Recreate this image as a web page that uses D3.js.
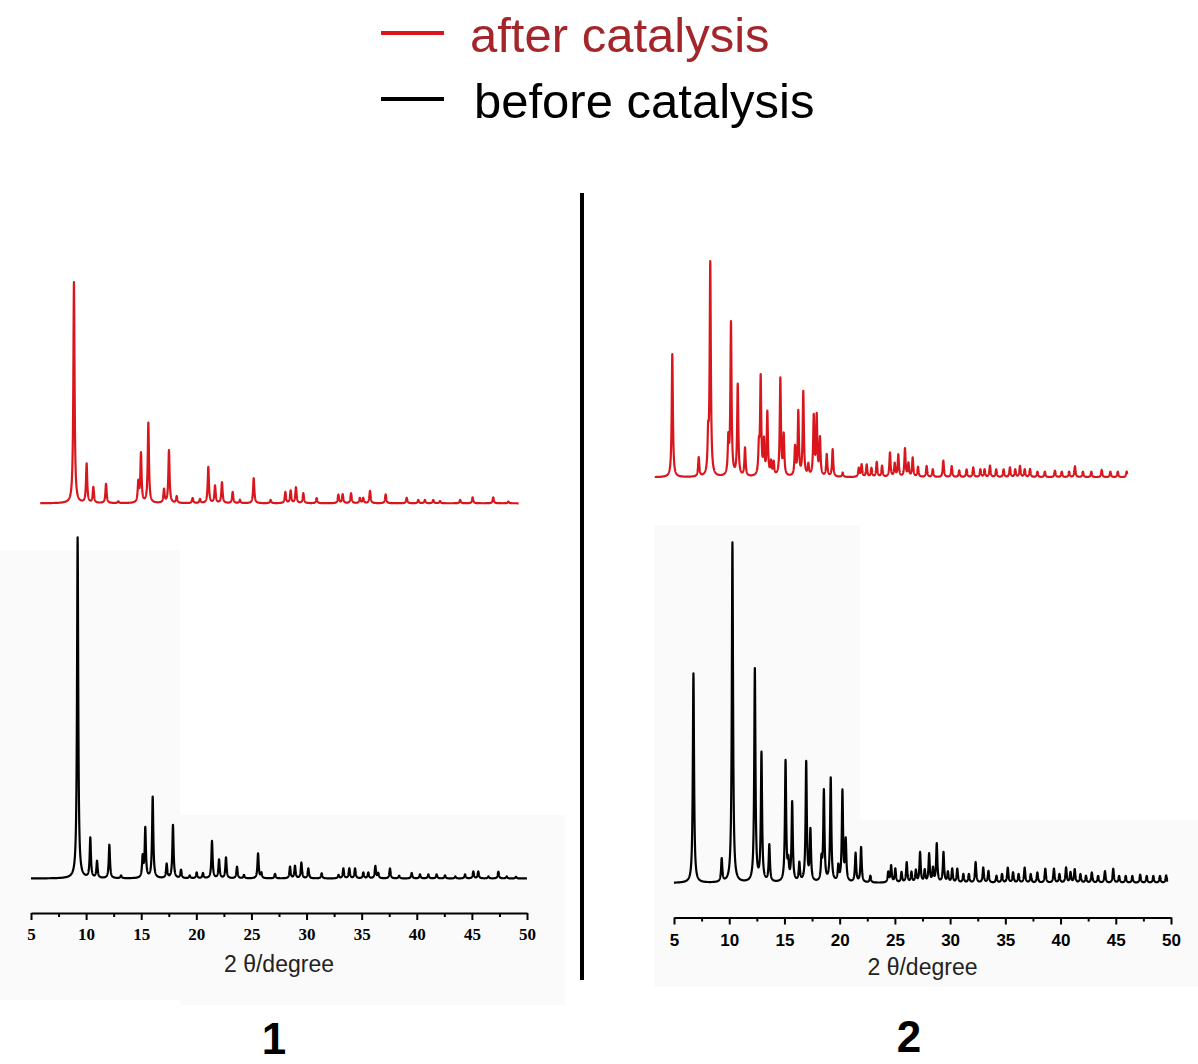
<!DOCTYPE html>
<html><head><meta charset="utf-8">
<script src="https://cdn.jsdelivr.net/npm/d3@7"></script>
<style>body{margin:0;background:#fff}svg{display:block}</style>
</head><body><svg id="chart" width="1198" height="1064"></svg>
<script>
// ---------- data ----------
const xTicks = [5, 10, 15, 20, 25, 30, 35, 40, 45, 50];
const xMinorTicks = [7.5, 12.5, 17.5, 22.5, 27.5, 32.5, 37.5, 42.5, 47.5];
const legendLabels = ["after catalysis", "before catalysis"];
const panelLabels = ["1", "2"];
const axisTitle = "2 \u03b8/degree";

// peaks: [2theta, relative intensity (% of strongest)]
const peaks1Before = [[9.23,100],[10.38,11.7],[10.99,4.9],[12.11,9.8],[13.17,0.8],[15.13,6],[15.37,14.5],[16.04,23.8],[17.31,4.1],[17.88,15.6],[18.61,2.4],[19.4,0.8],[20.03,1.7],[20.6,1.5],[21.42,10.9],[22.06,5.4],[22.69,6.1],[23.69,3.4],[24.32,1],[25.6,7.3],[25.9,1.5],[27.14,1.3],[28.5,3.4],[28.95,3.6],[29.53,4.6],[30.16,2.9],[31.37,1.5],[32.9,1],[33.34,2.9],[33.88,2.9],[34.4,2.9],[35.15,1.7],[35.6,1.7],[36.24,3.6],[36.5,1.5],[37.57,2.9],[38.4,0.8],[39.54,1.6],[40.29,1.2],[41.05,1.2],[41.8,1.2],[42.56,0.9],[43.5,0.6],[44.38,1.2],[45.13,2],[45.58,2],[46.5,0.6],[47.4,2],[48.16,0.6],[49,0.5]];
const peaks1After = [[9.26,100],[10.41,17.6],[11.02,7.1],[12.17,8.7],[13.28,0.8],[15.1,9],[15.34,22.2],[16.01,36.2],[17.43,6],[17.88,23.8],[18.58,3],[20.03,2.3],[20.7,1.8],[21.45,16.3],[22.06,7.8],[22.69,9.4],[23.66,5],[24.32,1.5],[25.57,11.3],[27.1,1.5],[28.44,5],[28.92,5.6],[29.4,7.1],[30.07,4.5],[31.28,2.3],[33.25,3.8],[33.64,4],[34.4,4.5],[35.2,2.3],[35.5,2.3],[36.12,5.6],[37.54,4],[39.45,2.5],[40.5,1.5],[41.1,1.5],[41.86,1.5],[42.47,1],[44.3,1.5],[45.43,2.7],[47.3,2.7],[48.67,0.8]];
const peaks2Before = [[6.76,61.6],[9.32,6.8],[10.29,100],[12.32,62.6],[12.92,37.7],[13.63,10.8],[15.1,35.4],[15.35,5],[15.7,23.2],[16.35,5.4],[16.97,35.2],[17.35,14.9],[18.35,6],[18.57,26.6],[19.19,30.5],[19.88,4.4],[20.25,26.6],[20.55,12],[21.44,8.5],[21.94,10.3],[22.78,2],[24.4,3],[24.66,4.9],[25.04,4],[25.6,3],[26.07,5.9],[26.5,3],[26.9,3.5],[27.28,8.8],[27.7,3.5],[28.1,8.3],[28.45,4],[28.79,11.3],[29.4,8.8],[29.8,3],[30.19,4],[30.65,4],[31.2,2.5],[31.7,2.5],[32.31,6],[33,4.4],[33.47,3.4],[34.2,2],[34.7,2.5],[35.22,4.4],[35.7,3],[36.2,2.5],[36.75,4.4],[37.3,2.5],[37.9,3],[38.62,4.1],[39.4,4.1],[39.9,2.5],[40.5,4.4],[40.9,3],[41.28,3.9],[41.8,2.5],[42.3,2],[42.83,3],[43.4,2],[44.02,3.4],[44.77,4.1],[45.3,2],[45.9,2],[46.5,2],[47.21,2.4],[47.8,2],[48.4,2],[49,2],[49.56,2.2]];
const peaks2After = [[6.76,56.2],[9.26,8.7],[10.15,16],[10.35,97],[12.06,15.8],[12.31,69.6],[12.95,41.7],[13.64,12.9],[14.95,12],[15.12,44.4],[15.43,15],[15.75,28.8],[16.1,6],[16.35,6],[16.98,44.4],[17.3,18.3],[18.37,13],[18.68,29.2],[19.15,38.4],[19.63,5],[20.14,27],[20.42,27],[20.73,17],[21.37,10],[21.93,12.5],[22.88,2],[24.4,4],[24.67,5.6],[25.15,5.6],[25.6,4],[26.1,6.8],[26.6,5],[27.35,11],[27.8,6],[28.14,10],[28.77,12.8],[29.1,6],[29.5,8.7],[30.0,4.5],[30.82,5],[31.4,3.5],[32.4,7.5],[33.19,5],[33.9,3],[34.6,3.5],[35.23,4.4],[35.9,3.5],[36.3,3.5],[36.81,5.2],[37.4,3.5],[38.1,3.5],[38.7,4.4],[39.2,3.5],[39.65,5],[40.1,3.5],[40.6,3.7],[41.3,2.5],[42,2.5],[42.96,3],[43.6,2.5],[44.3,2.5],[44.85,5],[45.6,2.5],[46.4,2.5],[47.38,3.3],[48.2,2.5],[48.9,2.5],[49.74,2.6]];
// measured 2theta range of each recorded trace
const span1Before = [5, 50];
const span1After = [6.2, 49.6];
const span2Before = [5, 49.7];
const span2After = [5.1, 49.8];

// ---------- drawing ----------
const svg = d3.select("#chart");
const RED = "#d8161c";
const W = 0.065; // peak half width (deg)

// faint scan backgrounds
const bg = svg.append("g").attr("fill", "#fafafa");
[[0,550,180,450],[180,815,385,190],[654,525,206,462],[860,820,338,167]].forEach(r =>
  bg.append("rect").attr("x", r[0]).attr("y", r[1]).attr("width", r[2]).attr("height", r[3]));

function profile(peaks, span) {
  return d3.range(span[0], span[1] + 1e-9, 0.01).map(t =>
    [t, d3.sum(peaks, p => p[1] * W * W / (W * W + (t - p[0]) * (t - p[0])))]);
}

const panels = [
  { label: panelLabels[0], axisY: 913, xr: [31, 527], tickFont: "'Liberation Serif', 'Times New Roman', serif", tickPad: 8, titleY: 972, labelX: 274, labelY: 1054,
    traces: [
      { peaks: peaks1Before, span: span1Before, xr: [31, 527], yr: [878.5, 537.5], color: "#000" },
      { peaks: peaks1After, span: span1After, xr: [27, 523], yr: [503.3, 282.3], color: RED }
    ] },
  { label: panelLabels[1], axisY: 917.5, xr: [674, 1171], tickFont: "'Liberation Sans', Arial, sans-serif", tickPad: 9, titleY: 975, labelX: 909, labelY: 1052,
    traces: [
      { peaks: peaks2Before, span: span2Before, xr: [674, 1171], yr: [883, 543], color: "#000" },
      { peaks: peaks2After, span: span2After, xr: [653.7, 1129.4], yr: [477.3, 258.3], color: RED }
    ] }
];

panels.forEach(p => {
  const g = svg.append("g");
  p.traces.forEach(tr => {
    const xs = d3.scaleLinear().domain([5, 50]).range(tr.xr);
    const ys = d3.scaleLinear().domain([0, 100]).range(tr.yr);
    g.append("path")
      .datum(profile(tr.peaks, tr.span))
      .attr("fill", "none")
      .attr("stroke", tr.color)
      .attr("stroke-width", 2.2)
      .attr("stroke-linejoin", "round")
      .attr("d", d3.line().x(d => xs(d[0])).y(d => ys(d[1])));
  });
  const x = d3.scaleLinear().domain([5, 50]).range(p.xr);
  const ax = g.append("g").attr("transform", `translate(0,${p.axisY})`)
    .call(d3.axisBottom(x).tickValues(xTicks).tickFormat(d3.format("d")).tickSize(7).tickSizeOuter(0).tickPadding(p.tickPad));
  ax.select(".domain").attr("stroke-width", 2.2);
  ax.selectAll(".tick line").attr("stroke-width", 2);
  ax.selectAll(".tick text").attr("font-family", p.tickFont).attr("font-weight", "bold").attr("font-size", 17).attr("fill", "#000");
  const mx = g.append("g").attr("transform", `translate(0,${p.axisY})`)
    .call(d3.axisBottom(x).tickValues(xMinorTicks).tickFormat("").tickSize(4).tickSizeOuter(0));
  mx.select(".domain").remove();
  mx.selectAll(".tick line").attr("stroke-width", 2);
  g.append("text").attr("x", (p.xr[0] + p.xr[1]) / 2).attr("y", p.titleY)
    .attr("text-anchor", "middle").attr("font-family", "'Liberation Sans', Arial, sans-serif")
    .attr("font-size", 23).attr("fill", "#222").text(axisTitle);
  g.append("text").attr("x", p.labelX).attr("y", p.labelY)
    .attr("text-anchor", "middle").attr("font-family", "'Liberation Sans', Arial, sans-serif")
    .attr("font-weight", "bold").attr("font-size", 44).attr("fill", "#000").text(p.label);
});

// divider
svg.append("line").attr("x1", 582).attr("x2", 582).attr("y1", 193).attr("y2", 980)
  .attr("stroke", "#000").attr("stroke-width", 4);

// legend
const legend = [
  { text: legendLabels[0], line: RED, color: "#a3262b", y: 52, tx: 470 },
  { text: legendLabels[1], line: "#000", color: "#000", y: 118, tx: 474 }
];
const lg = svg.append("g");
legend.forEach(l => {
  lg.append("line").attr("x1", 381).attr("x2", 444).attr("y1", l.y - 19).attr("y2", l.y - 19)
    .attr("stroke", l.line).attr("stroke-width", 4);
  lg.append("text").attr("x", l.tx).attr("y", l.y)
    .attr("font-family", "'Liberation Sans', Arial, sans-serif").attr("font-size", 49)
    .attr("fill", l.color).text(l.text);
});
</script></body></html>
